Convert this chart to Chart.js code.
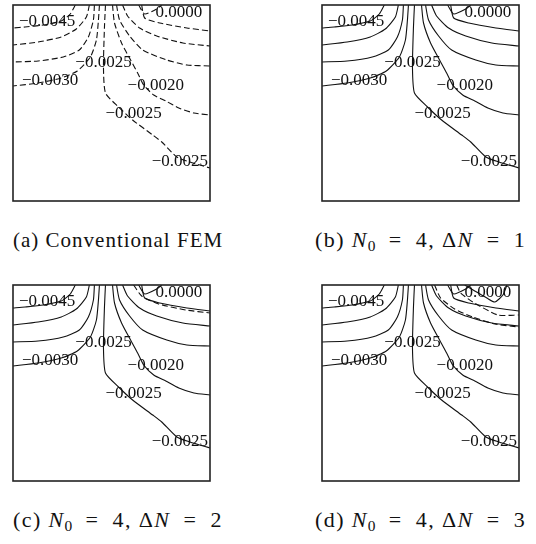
<!DOCTYPE html>
<html>
<head>
<meta charset="utf-8">
<script src="https://cdn.jsdelivr.net/npm/chart.js@4/dist/chart.umd.min.js"></script>
<style>
html, body { margin: 0; padding: 0; background: #fff; }
body { width: 536px; height: 544px; position: relative; overflow: hidden; font-family: 'Liberation Serif', 'Times New Roman', serif; color: #111; }
.panel { position: absolute; width: 201px; height: 200px; }
.cap { position: absolute; font-size: 21px; line-height: 22px; white-space: nowrap; letter-spacing: 1px; }
.math { font-size: 22px; letter-spacing: 1.4px; }
.cap sub { font-size: 70%; vertical-align: -0.25em; line-height: 0; letter-spacing: 0; }
.eq { padding: 0 0.6em; }
</style>
</head>
<body>
<div class="panel" style="left:11px; top:3px"><canvas id="panelA" width="201" height="200"></canvas></div>
<div class="panel" style="left:320px; top:3px"><canvas id="panelB" width="201" height="200"></canvas></div>
<div class="panel" style="left:11px; top:283px"><canvas id="panelC" width="201" height="200"></canvas></div>
<div class="panel" style="left:320px; top:283px"><canvas id="panelD" width="201" height="200"></canvas></div>

<div class="cap" id="capA" style="left:13px; top:229px">(a) Conventional FEM</div>
<div class="cap math" id="capB" style="left:315px; top:229px">(b) <i>N</i><sub>0</sub><span class="eq">=</span>4, Δ<i>N</i><span class="eq">=</span>1</div>
<div class="cap math" id="capC" style="left:13px; top:509px">(c) <i>N</i><sub>0</sub><span class="eq">=</span>4, Δ<i>N</i><span class="eq">=</span>2</div>
<div class="cap math" id="capD" style="left:315px; top:509px">(d) <i>N</i><sub>0</sub><span class="eq">=</span>4, Δ<i>N</i><span class="eq">=</span>3</div>

<script>
// contour polylines, in domain units (0..196 across, 0..196 down from the top edge)
const contourA1 = [[62,0],[57,9],[48,16],[30,20],[12,22],[0,23]];
const contourA2 = [[76,0],[73,12],[63,24],[48,32],[25,37],[0,40]];
const contourA3 = [[81,0],[80,15],[75,32],[66,45],[50,52],[25,56],[0,57]];
const contourA4 = [[86,0],[85,15],[83,35],[77,52],[64,66],[48,73],[25,78],[0,81]];
const contourC  = [[92,0],[91,22],[90,62],[92,88],[105,102],[119,115],[139,130],[148,137],[163,152],[176,157],[196,163]];
const contourR4 = [[99,0],[101,18],[108,38],[117,55],[124,68],[130,80],[140,90],[152,96],[165,103],[180,108],[196,110]];
const contourR3 = [[103,0],[106,15],[116,31],[129,45],[153,55],[173,60],[196,61]];
const contourR2 = [[109,0],[114,11],[126,23],[143,31],[169,38],[196,41]];
const contourR1 = [[128,0],[131,13],[146,18],[173,23],[196,26]];
const contourTop = [[125,0],[131,9],[143,4],[148,0]];

// extra contours that show up in the refined meshes
const extraC_dashed = [[120,0],[128,11],[145,19],[172,25],[196,28]];
const extraD_dashed1 = [[134,0],[138,8],[150,17],[175,30],[196,30]];
const extraD_dashed2 = [[112,0],[118,13],[132,24],[150,32],[172,39],[196,42]];
const extraD_loop = [[142,0],[152,6],[164,13],[172,17],[180,10],[184,0]];

// contour labels
const labelText = ['−0.0045', '0.0000', '−0.0025', '−0.0030', '−0.0020', '−0.0025', '−0.0025'];
const labelX = [34, 165, 90, 37, 142, 120, 166];
const labelY = [17, 8, 58, 76, 81, 109, 157];

const mainContours = [contourA1, contourA2, contourA3, contourA4, contourC, contourR4, contourR3, contourR2, contourR1, contourTop];

function toPoints(line) {
    return line.map(p => ({ x: p[0], y: p[1] }));
}

function lineSet(line, dashed) {
    return {
        data: toPoints(line),
        showLine: true,
        borderColor: '#111',
        borderWidth: 1.1,
        borderDash: dashed ? [6, 3] : [],
        pointRadius: 0,
        tension: 0.2,
        fill: false
    };
}

const framePlugin = {
    id: 'frameAndLabels',
    afterDatasetsDraw(chart) {
        const ctx = chart.ctx;
        const a = chart.chartArea;
        const xs = chart.scales.x;
        const ys = chart.scales.y;
        ctx.save();
        ctx.strokeStyle = '#222';
        ctx.lineWidth = 1.6;
        ctx.strokeRect(a.left, a.top, a.right - a.left, a.bottom - a.top);
        ctx.fillStyle = '#111';
        ctx.font = "17px 'Liberation Serif', 'Times New Roman', serif";
        ctx.textAlign = 'center';
        ctx.textBaseline = 'middle';
        for (let i = 0; i < labelText.length; i++) {
            ctx.fillText(labelText[i], xs.getPixelForValue(labelX[i]), ys.getPixelForValue(labelY[i]));
        }
        ctx.restore();
    }
};

function makePanel(id, datasets) {
    const canvas = document.getElementById(id);
    return new Chart(canvas.getContext('2d'), {
        type: 'scatter',
        data: { datasets: datasets },
        options: {
            responsive: false,
            animation: false,
            devicePixelRatio: 1,
            layout: { padding: 2 },
            plugins: { legend: { display: false }, tooltip: { enabled: false } },
            scales: {
                x: { type: 'linear', min: 0, max: 196, display: false },
                y: { type: 'linear', min: 0, max: 196, reverse: true, display: false }
            }
        },
        plugins: [framePlugin]
    });
}

makePanel('panelA', mainContours.map(l => lineSet(l, true)));
makePanel('panelB', mainContours.map(l => lineSet(l, false)));
makePanel('panelC', mainContours.map(l => lineSet(l, false)).concat([lineSet(extraC_dashed, true)]));
makePanel('panelD', mainContours.map(l => lineSet(l, false)).concat([
    lineSet(extraD_dashed1, true), lineSet(extraD_dashed2, true), lineSet(extraD_loop, false)
]));
</script>
</body>
</html>
